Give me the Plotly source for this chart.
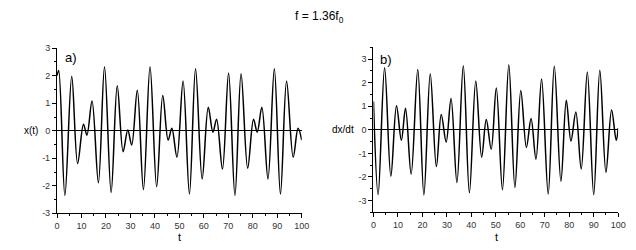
import plotly.graph_objects as go

# Panel a: x(t) extrema
t_a = [0, 0.67, 3.2, 6.0, 8.4, 10.8, 12.2, 14.3, 16.9, 19.4, 22.1, 24.6, 27.0, 28.9, 30.5,
       32.8, 35.3, 38.0, 40.7, 43.2, 45.4, 46.9, 49.0, 51.5, 54.1, 56.6, 59.3, 61.8, 63.7,
       65.2, 67.6, 70.1, 72.7, 75.2, 77.9, 80.3, 81.8, 83.7, 86.2, 88.8, 91.3, 93.8, 96.5,
       98.5, 100]
x_a = [2.0, 2.19, -2.35, 1.98, -1.19, 0.24, -0.16, 1.08, -1.89, 2.33, -2.24, 1.64, -0.76, 0.03,
       -0.52, 1.47, -2.14, 2.33, -2.03, 1.28, -0.34, 0.09, -0.96, 1.81, -2.30, 2.25, -1.75, 0.85,
       -0.05, 0.42, -1.39, 2.10, -2.35, 2.07, -1.36, 0.42, -0.05, 0.85, -1.75, 2.25, -2.30, 1.81,
       -0.96, 0.09, -0.34]

# Panel b: dx/dt extrema
t_b = [0, 1.9, 4.55, 7.1, 9.4, 11.4, 13.1, 15.4, 18.1, 20.6, 23.2, 25.7, 27.7, 29.7, 31.7,
       34.1, 36.7, 39.2, 41.8, 44.2, 46.1, 48.1, 50.2, 52.7, 55.3, 57.8, 60.2, 62.5, 64.4,
       66.4, 68.7, 71.4, 73.9, 76.6, 78.8, 80.7, 82.7, 84.9, 87.4, 90.0, 92.5, 95.0, 97.3,
       99.2, 100]
v_b = [1.2, -2.75, 2.63, -1.97, 1.02, -0.44, 0.91, -1.88, 2.56, -2.76, 2.38, -1.56, 0.65, -0.52,
       1.33, -2.24, 2.72, -2.67, 2.07, -1.16, 0.44, -0.82, 1.77, -2.54, 2.76, -2.45, 1.67, -0.75,
       0.48, -1.25, 2.15, -2.72, 2.69, -2.18, 1.25, -0.48, 0.75, -1.66, 2.45, -2.75, 2.52, -1.80,
       0.84, -0.45, 0.07]

x_ticks = [0, 10, 20, 30, 40, 50, 60, 70, 80, 90, 100]
ya_ticks = [-3, -2, -1, 0, 1, 2, 3]
ya_text = ["-3", "-2", "-1", "0", "1", "2", "3"]

FONT = "Liberation Sans, Arial, sans-serif"
W, H = 636, 250

fig = go.Figure()
line = dict(color="black", width=1.5, shape="spline", smoothing=1.0)
fig.add_trace(go.Scatter(x=t_a, y=x_a, mode="lines", line=line, xaxis="x", yaxis="y",
                         showlegend=False, hoverinfo="skip"))
fig.add_trace(go.Scatter(x=t_b, y=v_b, mode="lines", line=line, xaxis="x2", yaxis="y2",
                         showlegend=False, hoverinfo="skip"))

def xa(dom, anchor):
    return dict(domain=dom, anchor=anchor, range=[0, 100], tickvals=x_ticks,
                ticks="outside", ticklen=4, tickwidth=1, tickcolor="black",
                minor=dict(dtick=5, tick0=0, ticks="outside", ticklen=2, tickcolor="black"),
                showline=True, linecolor="black", linewidth=1.2, showgrid=False,
                zeroline=False, tickfont=dict(size=9, color="#333", family=FONT))

def ya(dom, anchor, rng):
    return dict(domain=dom, anchor=anchor, range=rng, tickvals=ya_ticks, ticktext=ya_text,
                ticks="outside", ticklen=4, tickwidth=1, tickcolor="black",
                minor=dict(dtick=0.5, tick0=0, ticks="outside", ticklen=2, tickcolor="black"),
                showline=True, linecolor="black", linewidth=1.2, showgrid=False,
                zeroline=True, zerolinecolor="black", zerolinewidth=1.4,
                tickfont=dict(size=9, color="#333", family=FONT))

fig.update_layout(
    width=W, height=H, margin=dict(l=0, r=0, t=0, b=0),
    paper_bgcolor="white", plot_bgcolor="white",
    font=dict(family=FONT, color="black"),
    xaxis=xa([55 / W, 304 / W], "y"),
    yaxis=ya([1 - 217 / H, 1 - 45 / H], "x", [-3, 3]),
    xaxis2=xa([377 / W, 626 / W], "y2"),
    yaxis2=ya([1 - 216 / H, 1 - 44 / H], "x2", [-3.5, 3.5]),
)

anns = [
    dict(text="f = 1.36f<sub>0</sub>", x=322 / W, y=1 - 13 / H, font=dict(size=12)),
    dict(text="a)", x=69 / W, y=1 - 55 / H, font=dict(size=13)),
    dict(text="b)", x=390 / W, y=1 - 57 / H, font=dict(size=13)),
    dict(text="x(t)", x=29 / W, y=1 - 131 / H, font=dict(size=10)),
    dict(text="dx/dt", x=346 / W, y=1 - 130 / H, font=dict(size=10)),
    dict(text="t", x=180 / W, y=1 - 242 / H, font=dict(size=11)),
    dict(text="t", x=502 / W, y=1 - 242 / H, font=dict(size=11)),
]
for a in anns:
    fig.add_annotation(xref="paper", yref="paper", showarrow=False,
                       xanchor="center", yanchor="middle", **a)

fig.write_html("out.html")
